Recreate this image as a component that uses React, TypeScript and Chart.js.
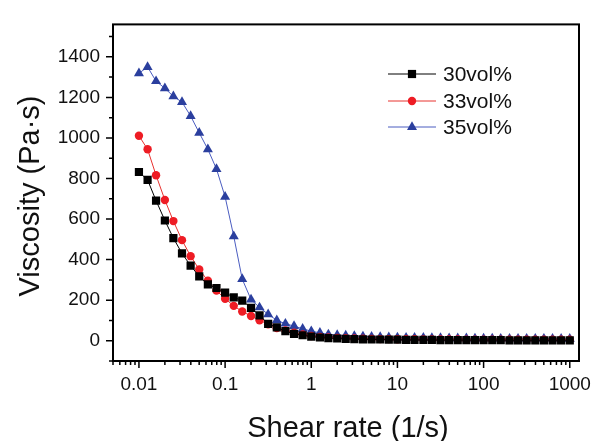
import React, { useEffect, useRef } from "react";
import { Chart, registerables } from "chart.js";

Chart.register(...registerables);

// Shear rate (1/s), 10 points per decade
const shearRate = [
  0.01, 0.0126, 0.0158, 0.02, 0.0251, 0.0316, 0.0398, 0.0501, 0.0631, 0.0794,
  0.1, 0.126, 0.158, 0.2, 0.251, 0.316, 0.398, 0.501, 0.631, 0.794,
  1, 1.26, 1.58, 2, 2.51, 3.16, 3.98, 5.01, 6.31, 7.94,
  10, 12.6, 15.8, 20, 25.1, 31.6, 39.8, 50.1, 63.1, 79.4,
  100, 126, 158, 200, 251, 316, 398, 501, 631, 794, 1000,
];

const visc30 = [
  832, 793, 691, 593, 506, 431, 370, 317, 278, 260,
  237, 214, 198, 162, 125, 83, 66, 47, 34, 27,
  20, 16, 13, 11, 9, 8, 7, 6, 6, 5,
  5, 4, 4, 4, 4, 3, 3, 3, 3, 3,
  3, 3, 3, 2, 2, 2, 2, 2, 2, 2, 2,
];

const visc33 = [
  1011, 944, 816, 694, 590, 496, 417, 351, 296, 247,
  207, 172, 144, 122, 101, 81, 62, 51, 39, 31,
  23, 19, 16, 14, 12, 11, 10, 9, 8, 8,
  7, 7, 7, 6, 6, 6, 6, 6, 5, 5,
  5, 5, 5, 5, 5, 5, 5, 5, 5, 5, 5,
];

const visc35 = [
  1319, 1350, 1280, 1245, 1205, 1177, 1108, 1025, 944, 847,
  710, 515, 304, 203, 164, 130, 101, 84, 72, 59,
  47, 39, 31, 28, 25, 23, 21, 19, 18, 17,
  16, 15, 14, 14, 13, 13, 12, 12, 12, 11,
  11, 11, 10, 10, 10, 10, 10, 10, 10, 9, 9,
];

const seriesLabels = ["30vol%", "33vol%", "35vol%"];

const xTickValues = [0.01, 0.1, 1, 10, 100, 1000];
const xTickLabels = ["0.01", "0.1", "1", "10", "100", "1000"];
const xMinorMultipliers = [2, 3, 4, 5, 6, 7, 8, 9];
const yTickValues = [0, 200, 400, 600, 800, 1000, 1200, 1400];
const yMinorValues = [-100, 100, 300, 500, 700, 900, 1100, 1300, 1500];

const xTitle = "Shear rate (1/s)";
const yTitle = "Viscosity (Pa·s)";

const FONT = "'Liberation Sans', Arial, sans-serif";
const TEXT = "#111111";

const framePlugin = {
  id: "frameTicksTitles",
  afterDraw(chart: any) {
    const { ctx, chartArea } = chart;
    const xs = chart.scales.x;
    const ys = chart.scales.y;
    const { left, right, top, bottom } = chartArea;
    ctx.save();
    ctx.strokeStyle = "#000";
    ctx.lineWidth = 2;
    ctx.strokeRect(left, top, right - left, bottom - top);

    ctx.lineWidth = 1.5;
    ctx.beginPath();
    const decades = [0.001, 0.01, 0.1, 1, 10, 100, 1000];
    decades.forEach((d) => {
      xMinorMultipliers.forEach((m) => {
        const v = d * m;
        if (v < xs.min || v > xs.max) return;
        const px = xs.getPixelForValue(v);
        ctx.moveTo(px, bottom);
        ctx.lineTo(px, bottom + 4);
      });
    });
    xTickValues.forEach((v) => {
      const px = xs.getPixelForValue(v);
      ctx.moveTo(px, bottom);
      ctx.lineTo(px, bottom + 7);
    });
    yMinorValues.forEach((v) => {
      if (v < ys.min || v > ys.max) return;
      const py = ys.getPixelForValue(v);
      ctx.moveTo(left, py);
      ctx.lineTo(left - 4, py);
    });
    yTickValues.forEach((v) => {
      const py = ys.getPixelForValue(v);
      ctx.moveTo(left, py);
      ctx.lineTo(left - 7, py);
    });
    ctx.stroke();

    // axis titles
    ctx.fillStyle = TEXT;
    ctx.font = `29px ${FONT}`;
    ctx.textAlign = "center";
    ctx.textBaseline = "alphabetic";
    ctx.fillText(xTitle, 348, 437);
    ctx.save();
    ctx.translate(39, 196);
    ctx.rotate(-Math.PI / 2);
    ctx.fillText(yTitle, 0, 0);
    ctx.restore();

    // legend
    const rows = [74, 101, 127];
    chart.data.datasets.forEach((ds: any, i: number) => {
      const y = rows[i];
      ctx.strokeStyle = ds.borderColor;
      ctx.lineWidth = 1;
      ctx.beginPath();
      ctx.moveTo(388, y);
      ctx.lineTo(436, y);
      ctx.stroke();
      ctx.fillStyle = ds.pointBackgroundColor;
      ctx.beginPath();
      const cx = 412;
      const r = ds.pointRadius;
      if (ds.pointStyle === "rect") {
        const s = Math.SQRT1_2 * r;
        ctx.rect(cx - s, y - s, 2 * s, 2 * s);
      } else if (ds.pointStyle === "circle") {
        ctx.arc(cx, y, r, 0, Math.PI * 2);
      } else {
        for (let k = 0; k < 3; k++) {
          const a = (k * 2 * Math.PI) / 3;
          const px = cx + Math.sin(a) * r;
          const py = y - Math.cos(a) * r;
          if (k === 0) ctx.moveTo(px, py);
          else ctx.lineTo(px, py);
        }
        ctx.closePath();
      }
      ctx.fill();
      ctx.fillStyle = TEXT;
      ctx.font = `21px ${FONT}`;
      ctx.textAlign = "left";
      ctx.textBaseline = "middle";
      ctx.fillText(ds.label, 443, y + 1);
    });
    ctx.restore();
  },
};

export default function App() {
  const canvasRef = useRef<HTMLCanvasElement | null>(null);

  useEffect(() => {
    if (!canvasRef.current) return;
    const mk = (vals: number[]) => shearRate.map((x, i) => ({ x, y: vals[i] }));
    const chart = new Chart(canvasRef.current, {
      type: "line",
      data: {
        datasets: [
          {
            label: seriesLabels[0],
            data: mk(visc30),
            borderColor: "#000000",
            backgroundColor: "#000000",
            pointBackgroundColor: "#000000",
            pointBorderColor: "#000000",
            pointBorderWidth: 0,
            pointStyle: "rect",
            pointRadius: 5.8,
            borderWidth: 1,
          },
          {
            label: seriesLabels[1],
            data: mk(visc33),
            borderColor: "#e8322f",
            backgroundColor: "#ee1c24",
            pointBackgroundColor: "#ee1c24",
            pointBorderColor: "#ee1c24",
            pointBorderWidth: 0,
            pointStyle: "circle",
            pointRadius: 4.2,
            borderWidth: 1,
          },
          {
            label: seriesLabels[2],
            data: mk(visc35),
            borderColor: "#4a5cc0",
            backgroundColor: "#2b3f9e",
            pointBackgroundColor: "#2b3f9e",
            pointBorderColor: "#2b3f9e",
            pointBorderWidth: 0,
            pointStyle: "triangle",
            pointRadius: 5.8,
            borderWidth: 1,
          },
        ],
      },
      options: {
        responsive: false,
        animation: false,
        layout: { padding: { top: 7, right: 26, left: 0, bottom: 0 } },
        plugins: {
          legend: { display: false },
          tooltip: { enabled: false },
        },
        scales: {
          x: {
            type: "logarithmic",
            position: "bottom",
            min: 0.005,
            max: 1280,
            afterFit: (s: any) => {
              s.height = 80;
            },
            afterBuildTicks: (s: any) => {
              s.ticks = xTickValues.map((v) => ({ value: v }));
            },
            grid: { display: false, drawTicks: false },
            border: { display: false },
            ticks: {
              autoSkip: false,
              maxRotation: 0,
              padding: 12,
              color: TEXT,
              font: { family: FONT, size: 19 },
              callback: (v: any) => {
                const idx = xTickValues.findIndex((t) => Math.abs(t - Number(v)) < t * 1e-6);
                return idx >= 0 ? xTickLabels[idx] : "";
              },
            },
          },
          y: {
            type: "linear",
            min: -100,
            max: 1560,
            afterFit: (s: any) => {
              s.width = 113;
            },
            afterBuildTicks: (s: any) => {
              s.ticks = yTickValues.map((v) => ({ value: v }));
            },
            grid: { display: false, drawTicks: false },
            border: { display: false },
            ticks: {
              padding: 13,
              color: TEXT,
              font: { family: FONT, size: 19 },
              callback: (v: any) => String(v),
            },
          },
        },
      },
      plugins: [framePlugin],
    });
    return () => chart.destroy();
  }, []);

  return (
    <div style={{ position: "absolute", left: 0, top: 0, width: 605, height: 441, background: "#fff" }}>
      <canvas ref={canvasRef} width={605} height={441} style={{ display: "block" }} />
    </div>
  );
}
